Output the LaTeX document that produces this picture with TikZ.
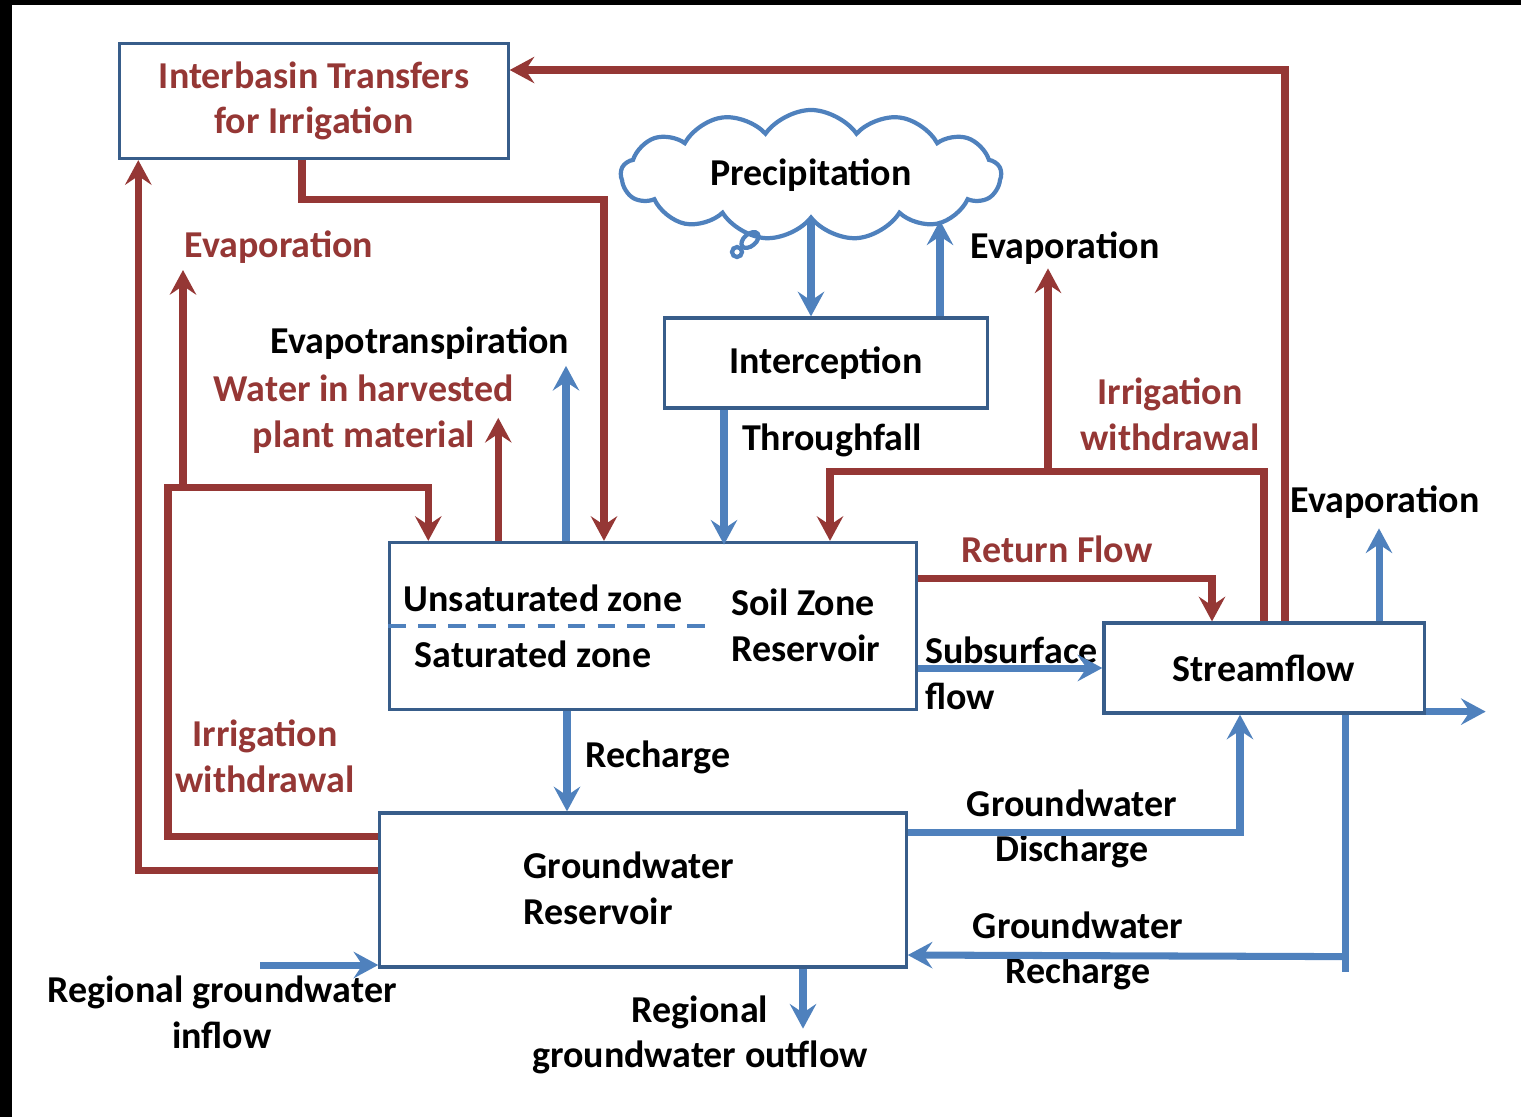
\documentclass[tikz,border=0pt]{standalone}
\usepackage{fontspec}
\setmainfont{Carlito}
\usetikzlibrary{arrows.meta, shapes.symbols, calc, positioning}

\definecolor{boxline}{HTML}{385D8A}
\definecolor{flowblue}{HTML}{4F81BD}
\definecolor{flowred}{HTML}{953735}

\tikzset{
  box/.style={draw=boxline, line width=0.9pt, rectangle, inner sep=0pt},
  bflow/.style={draw=flowblue, line width=2pt, -{Stealth[length=7pt, width=7.5pt, inset=2.5pt]}},
  bline/.style={draw=flowblue, line width=2pt},
  rflow/.style={draw=flowred, line width=2pt, -{Stealth[length=7pt, width=7.5pt, inset=2.5pt]}},
  lbl/.style={align=center, inner sep=1pt},
  rlbl/.style={lbl, text=flowred},
}

\begin{document}
\begin{tikzpicture}[x=0.01cm, y=-0.01cm, font=\fontsize{10.8}{13}\selectfont\bfseries]
\useasboundingbox (0,0) rectangle (1521,1117);
\fill[black] (0,0) rectangle (1521,5);
\fill[black] (0,0) rectangle (12,1117);

% reservoirs
\node (trans) [box, minimum width=3.88cm, minimum height=1.15cm, text=flowred, align=center] at (314,101) {Interbasin Transfers\\for Irrigation};
\node (cloud) [cloud, cloud puffs=13, cloud puff arc=110, cloud ignores aspect, inner sep=0pt, draw=flowblue, line width=1.2pt, minimum width=3.8cm, minimum height=1.3cm] at (811,175) {Precipitation};
\node (icpt) [box, minimum width=3.22cm, minimum height=0.9cm] at (826,363) {Interception};
\node (soil) [box, minimum width=5.26cm, minimum height=1.67cm] at (653,626) {};
\node (strm) [box, minimum width=3.2cm, minimum height=0.9cm] at (1264,668) {Streamflow};
\node (gw) [box, minimum width=5.26cm, minimum height=1.54cm] at (643,890) {};

% thought bubble under the cloud
\draw[flowblue, line width=1.2pt, rotate around={40:(750,240)}] (750,240) ellipse (10 and 6);
\draw[flowblue, line width=1.2pt] (737,252) circle (5);

% inside the soil zone
\node (unsat) [lbl] at (543,598) {Unsaturated zone};
\node (sat) [lbl] at (533,654) {Saturated zone};
\draw[flowblue, line width=1.1pt, dash pattern=on 5pt off 3.5pt] (soil.west) -- ++(323,0);
\node (soilname) [lbl, align=left] at (806,625) {Soil Zone\\Reservoir};
\node (gwname) [lbl, align=left] at (629,888) {Groundwater\\Reservoir};

% flow labels
\node (evapl) [rlbl] at (279,247) {Evaporation};
\node (evt) [lbl] at (420,343) {Evapotranspiration};
\node (harv) [rlbl] at (364,414) {Water in harvested\\plant material};
\node (evapc) [lbl] at (1065,248) {Evaporation};
\node (thru) [lbl] at (832,440) {Throughfall};
\node (irrr) [rlbl] at (1170,414) {Irrigation\\withdrawal};
\node (evaps) [lbl] at (1385,502) {Evaporation};
\node (retf) [rlbl] at (1057,549) {Return Flow};
\node (subs) [lbl, align=left, anchor=west] at (921,673) {Subsurface\\flow};
\node (irrl) [rlbl] at (265,756) {Irrigation\\withdrawal};
\node (rech) [lbl] at (658,757) {Recharge};
\node (gwdis) [lbl] at (1072,829) {Groundwater\\Discharge};
\node (gwrech) [lbl] at (1078,951) {Groundwater\\Recharge};
\node (rin) [lbl] at (222,1012) {Regional groundwater\\inflow};
\node (rout) [lbl] at (700,1035) {Regional\\groundwater outflow};

\coordinate (rinstart) at (260,965);
\coordinate (ljoin) at (168,487);

% water flows
\draw[bflow] (cloud.south) -- (cloud.south |- icpt.north);
\draw[bflow] ($(icpt.north)+(114,0)$) -- ++(0,-96);
\draw[bflow] ($(icpt.south)+(-102,0)$) -- ++(0,135);
\draw[bflow] ($(soil.north)+(-87,0)$) -- ++(0,-175);
\draw[bflow] ($(soil.south)+(-86,0)$) -- ($(gw.north)+(-76,0)$);
\draw[bflow] (soil.east |- strm.west) -- (strm.west);
\draw[bflow] ($(strm.north)+(115,0)$) -- ++(0,-93);
\draw[bflow] ($(strm.south east)+(0,-3)$) -- ++(60,0);
\draw[bflow] ($(gw.east)+(0,-58)$) -| ($(strm.south)+(-24,0)$);
\draw[bline] ($(strm.south)+(81,0)$) -- ++(0,257);
\draw[bflow] ($(strm.south)+(81,242)$) -- ($(gw.east)+(0,65)$);
\draw[bflow] (rinstart) -- (rinstart -| gw.west);
\draw[bflow] ($(gw.south)+(160,0)$) -- ++(0,60);

% irrigation flows
\draw[rflow] ($(strm.north)+(21,0)$) |- ($(trans.east)+(0,-31)$);
\draw[rflow] ($(trans.south)+(-12,0)$) -- ++(0,39) -| ($(soil.north)+(-49,0)$);
\draw[rflow] ($(gw.west)+(0,-20)$) -| ($(trans.south west)+(20,0)$);
\draw[rflow] ($(gw.west)+(0,-54)$) -| (ljoin) -| ($(soil.north west)+(40,0)$);
\draw[rflow] ($(ljoin)+(15,0)$) -- ++(0,-217);
\draw[rflow] ($(soil.north west)+(110,0)$) -- ++(0,-123);
\draw[rflow] (strm.north) -- ++(0,-150) -| ($(soil.north)+(177,0)$);
\draw[rflow] ($(strm.north)+(-216,-150)$) -- ++(0,-203);
\draw[rflow] ($(soil.east)+(0,-48)$) -| ($(strm.north)+(-52,0)$);
\end{tikzpicture}
\end{document}
